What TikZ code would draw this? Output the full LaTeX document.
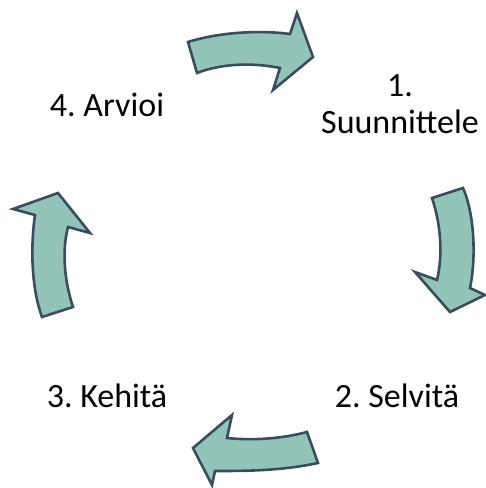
\documentclass[tikz,border=0pt]{standalone}
\usepackage{fontspec}
\setmainfont{Carlito}
\frenchspacing
\definecolor{arrfill}{RGB}{147,196,184}
\definecolor{arrline}{RGB}{58,76,95}
\begin{document}
\begin{tikzpicture}[x=1pt,y=-1pt,
  blockarrow/.style={fill=arrfill,draw=arrline,line width=2.6pt,line join=miter},
  lbl/.style={font=\fontsize{34}{37}\selectfont,inner sep=0pt,anchor=base,align=center}]
\useasboundingbox (0,0) rectangle (486,488);
% top arrow
\draw[blockarrow] (188,42) .. controls (220,32) and (260,30) .. (290,34)
  -- (297,13) -- (313,57) -- (273,90) -- (280,68)
  .. controls (250,62) and (220,64) .. (197,73) -- cycle;
% right arrow
\draw[blockarrow] (463,188) .. controls (475,215) and (476,260) .. (470,288)
  -- (485,295) -- (450,312) -- (415,272) -- (437,280)
  .. controls (443,255) and (441,225) .. (432,198) -- cycle;
% bottom arrow
\draw[blockarrow] (318,463) .. controls (280,471) and (245,471) .. (215,471)
  -- (212,485) -- (193,448) -- (232,415) -- (227,438)
  .. controls (255,441) and (285,438) .. (307,432) -- cycle;
% left arrow
\draw[blockarrow] (73,307) .. controls (64,280) and (62,250) .. (68,227)
  -- (90,233) -- (58,193) -- (13,209) -- (35,215)
  .. controls (30,250) and (32,290) .. (42,317) -- cycle;
% labels
\node[lbl] (s1a) at (400,96.7) {1.};
\node[lbl] (s1b) at (400,133.3) {Suunnittele};
\node[lbl] (s2) at (397,407) {2. Selvitä};
\node[lbl] (s3) at (107,407) {3. Kehitä};
\node[lbl] (s4) at (107,116.7) {4. Arvioi};
\end{tikzpicture}
\end{document}
